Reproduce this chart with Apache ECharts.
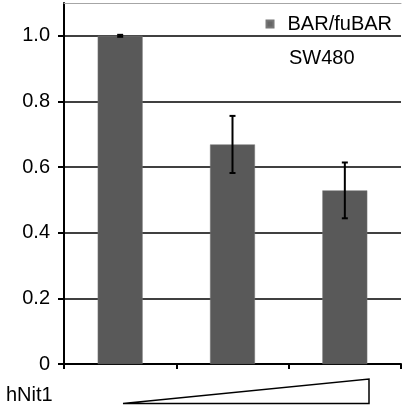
<!DOCTYPE html>
<html>
<head>
<meta charset="utf-8">
<script src="https://cdn.jsdelivr.net/npm/echarts@6/dist/echarts.min.js"></script>
<style>
html,body{margin:0;padding:0;background:#fff;}
#chart{width:402px;height:407px;}
</style>
</head>
<body>
<div id="chart"></div>
<script>
var categories = ['1', '2', '3'];
var values = [1.0, 0.669, 0.529];
var errors = [0.003, 0.087, 0.085];
var yTicks = [0, 0.2, 0.4, 0.6, 0.8, 1.0];
var seriesName = 'BAR/fuBAR';
var cellLine = 'SW480';
var rowLabel = 'hNit1';

var FONT = '"Liberation Sans", Arial, sans-serif';
var chart = echarts.init(document.getElementById('chart'));
var option = {
  animation: false,
  backgroundColor: '#fff',
  grid: { left: 64, right: 1, top: 3, bottom: 43, containLabel: false },
  legend: {
    show: true,
    right: 5,
    top: 9,
    itemWidth: 7,
    itemHeight: 7,
    icon: 'rect',
    data: [{ name: seriesName, itemStyle: { color: '#666666' } }],
    textStyle: { fontFamily: FONT, fontSize: 20, color: '#000', padding: [0, 0, 0, 9] }
  },
  xAxis: [{
    type: 'category',
    data: categories,
    boundaryGap: true,
    axisLine: { lineStyle: { color: '#000', width: 2 } },
    axisTick: { show: true, length: 5, interval: 0, lineStyle: { color: '#000', width: 2 } },
    axisLabel: { show: false },
    splitLine: { show: false }
  }, {
    type: 'category',
    data: categories,
    position: 'top',
    axisLine: { lineStyle: { color: '#a6a6a6', width: 1 } },
    axisTick: { show: false },
    axisLabel: { show: false }
  }],
  yAxis: {
    type: 'value',
    min: 0,
    max: 1.1,
    interval: 0.2,
    axisLine: { show: true, lineStyle: { color: '#000', width: 2 } },
    axisTick: { show: true, length: 6, customValues: yTicks, lineStyle: { color: '#000', width: 2 } },
    axisLabel: {
      customValues: yTicks,
      margin: 14,
      fontFamily: FONT, fontSize: 20, color: '#000',
      formatter: function (v) { return v === 0 ? '0' : v.toFixed(1); }
    },
    splitLine: { show: true, lineStyle: { color: ['#000', '#000', '#000', '#000', '#000', '#000', 'rgba(0,0,0,0)'], width: 1.5 } }
  },
  series: [{
    name: seriesName,
    type: 'bar',
    data: values,
    barWidth: '40%',
    itemStyle: { color: '#595959', borderColor: '#777', borderWidth: 0.5 },
    z: 2
  }, {
    type: 'custom',
    name: 'err',
    z: 5,
    data: values.map(function (v, i) { return [i, v - errors[i], v + errors[i]]; }),
    renderItem: function (params, api) {
      var lo = api.coord([api.value(0), api.value(1)]);
      var hi = api.coord([api.value(0), api.value(2)]);
      var hw = 3;
      var st = { stroke: '#000', lineWidth: 2 };
      return {
        type: 'group',
        children: [
          { type: 'line', shape: { x1: lo[0], y1: lo[1], x2: hi[0], y2: hi[1] }, style: st },
          { type: 'line', shape: { x1: lo[0] - hw, y1: lo[1], x2: lo[0] + hw, y2: lo[1] }, style: st },
          { type: 'line', shape: { x1: hi[0] - hw, y1: hi[1], x2: hi[0] + hw, y2: hi[1] }, style: st }
        ]
      };
    }
  }],
  graphic: [
    { type: 'text', left: 289, top: 48, style: { text: cellLine, fontFamily: FONT, fontSize: 20, fill: '#000' } },
    { type: 'text', left: 6, top: 385, style: { text: rowLabel, fontFamily: FONT, fontSize: 20, fill: '#000' } },
    { type: 'polygon', shape: { points: [[123, 403.5], [369, 379], [369, 403.5]] }, style: { fill: '#fff', stroke: '#000', lineWidth: 1.5 } }
  ]
};
chart.setOption(option);
</script>
</body>
</html>
